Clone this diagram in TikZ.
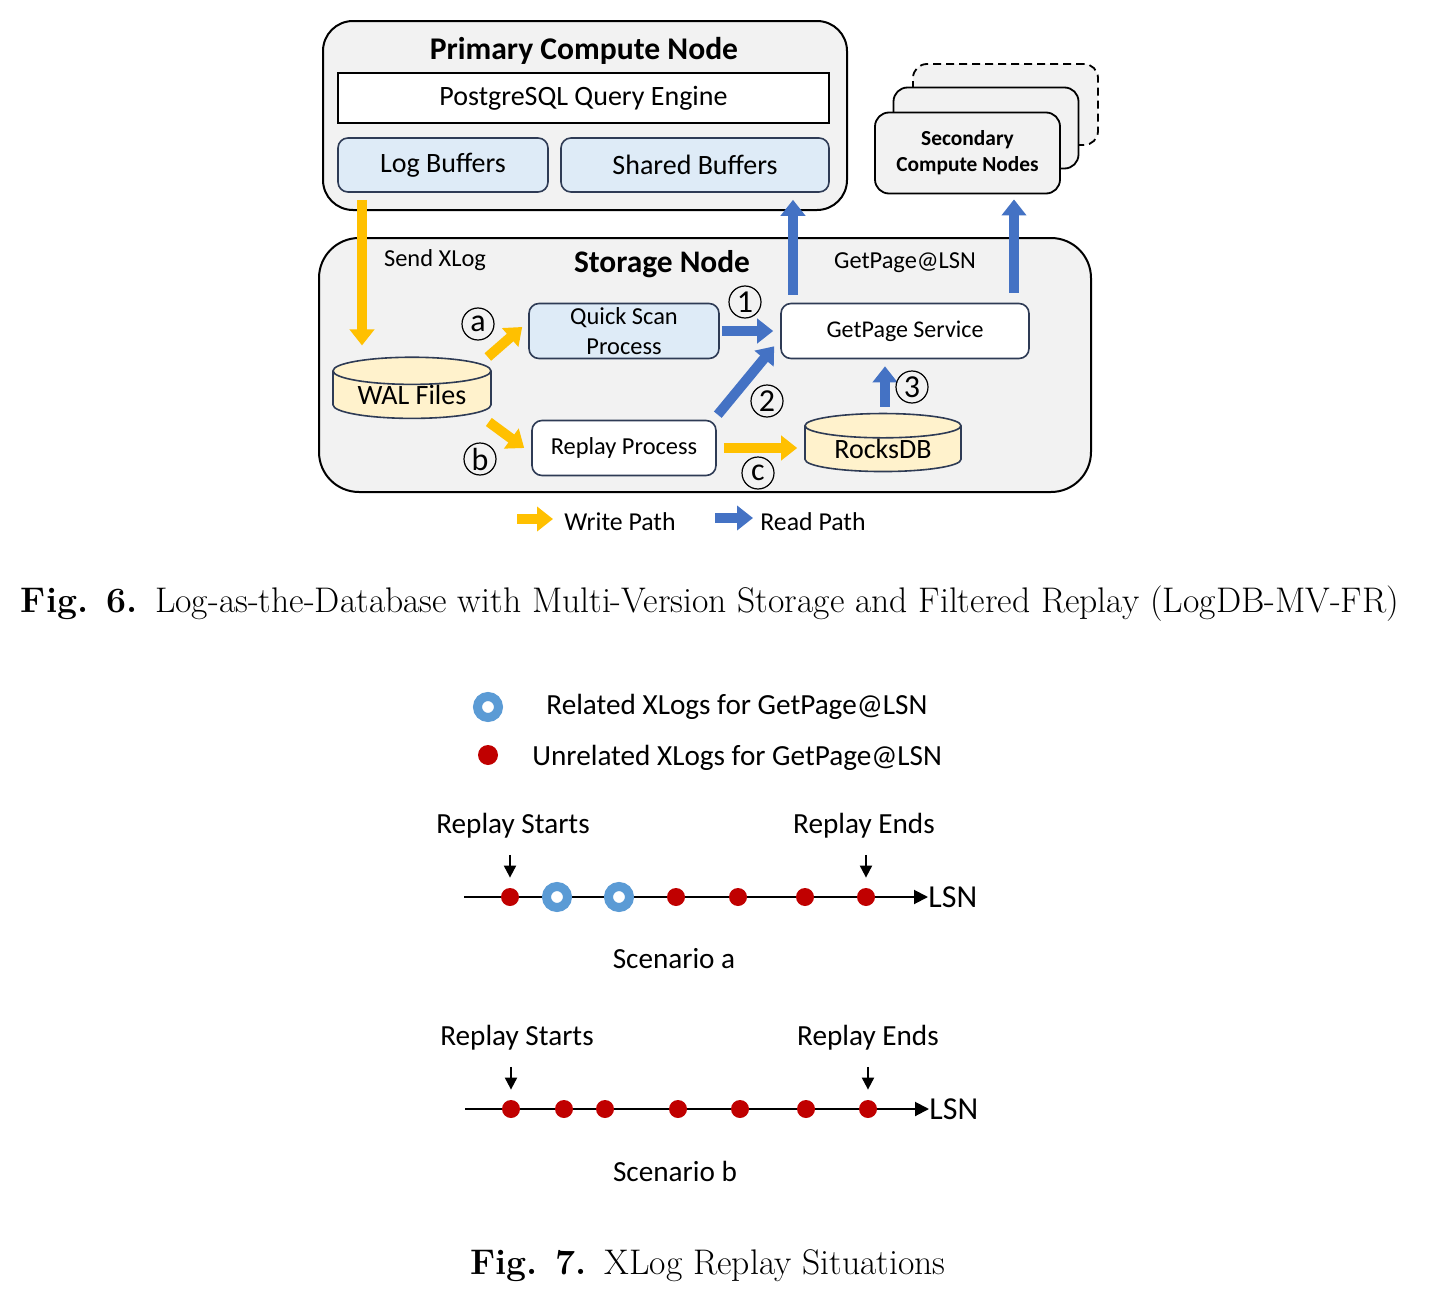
\documentclass[tikz,border=0pt]{standalone}
\usepackage{fontspec}
\newfontfamily\calfont{Carlito}
\usetikzlibrary{arrows.meta,positioning,shapes.geometric}

\definecolor{boxgray}{HTML}{F2F2F2}
\definecolor{qblue}{HTML}{DEEBF7}
\definecolor{edgeblue}{HTML}{2E3B55}
\definecolor{dbfill}{HTML}{FFF2CC}
\definecolor{wyellow}{HTML}{FFC000}
\definecolor{rblue}{HTML}{4472C4}
\definecolor{dotred}{HTML}{C00000}
\definecolor{ringblue}{HTML}{5B9BD5}

\begin{document}
\begin{tikzpicture}[x=0.5pt, y=-0.5pt,
		every node/.style = {font=\calfont, inner sep=0pt},
		bigbox/.style = {draw, line width=1pt, fill=boxgray},
		buf/.style = {draw=edgeblue, line width=0.8pt, fill=qblue, rounded corners=5pt},
		plain/.style = {draw=edgeblue, line width=0.8pt, fill=white, rounded corners=5pt},
		secbox/.style = {draw, line width=0.9pt, fill=boxgray, rounded corners=7pt,
			minimum width=92.5pt, minimum height=40.5pt},
		db/.style = {cylinder, shape border rotate=90, aspect=0.25,
			draw=edgeblue, line width=0.8pt, fill=dbfill},
		num/.style = {circle, draw, line width=0.6pt, minimum size=16pt,
			font=\calfont\fontsize{16}{16}\selectfont},
		wpath/.style = {draw=wyellow, line width=5pt, -{Triangle[length=8pt,width=12pt]}},
		rpath/.style = {draw=rblue, line width=5pt, -{Triangle[length=8pt,width=12pt]}},
		reddot/.style = {circle, fill=dotred, minimum size=9pt},
		ring/.style = {circle, draw=ringblue, fill=white, line width=4.5pt, minimum size=10.5pt},
		axis/.style = {line width=1pt, -{Triangle[length=7pt,width=7pt]}},
		pointer/.style = {line width=1pt, -{Triangle[length=6pt,width=6pt]}},
		t12/.style = {font=\calfont\fontsize{12.2}{15}\selectfont},
		t14/.style = {font=\calfont\fontsize{14}{17}\selectfont},
		tlog/.style = {font=\calfont\fontsize{14.6}{17}\selectfont},
		figcap/.style = {font=\normalfont\fontsize{17.8}{21}\selectfont}
	]
	\path[fill=white, use as bounding box] (0,0) rectangle (1432,1306);

	% primary compute node
	\node[bigbox, rounded corners=15pt, minimum width=262pt, minimum height=94.5pt] (primary) at (585,115.5) {};
	\node[font=\calfont\bfseries\fontsize{15.8}{18}\selectfont] (ptitle) at (584,51) {Primary Compute Node};
	\node[draw, line width=0.8pt, fill=white, minimum width=245.5pt, minimum height=25pt, t14] (engine) at (583.5,98) {PostgreSQL Query Engine};
	\node[buf, minimum width=105pt, minimum height=27pt, t14] (logbuf) at (443,165) {Log Buffers};
	\node[buf, minimum width=134pt, minimum height=27pt, t14] (shbuf) at (695,165) {Shared Buffers};

	% secondary compute nodes
	\node[secbox, dash pattern=on 4pt off 2.5pt] (secback) at (1005.5,104.5) {};
	\node[secbox] (secmid) at (986,128) {};
	\node[secbox, align=center, font=\calfont\bfseries\fontsize{10.7}{13}\selectfont] (secnode) at (967.5,153) {Secondary\\Compute Nodes};

	% storage node
	\node[bigbox, rounded corners=20pt, minimum width=386pt, minimum height=127pt] (storage) at (705,365) {};
	\node[font=\calfont\bfseries\fontsize{15.7}{18}\selectfont] (stitle) at (662,264) {Storage Node};
	\node[t12] (sendlbl) at (435,260) {Send XLog};
	\node[t12] (getlbl) at (905,263) {GetPage@LSN};

	\node[db, minimum width=79pt, minimum height=30pt, t14] (wal) at (412,395) {WAL Files};
	\node[buf, minimum width=95pt, minimum height=27.5pt, align=center, t12] (quick) at (624,331) {Quick Scan\\Process};
	\node[plain, minimum width=124pt, minimum height=27.5pt, font=\calfont\fontsize{12}{14}\selectfont] (getpage) at (905,331) {GetPage Service};
	\node[plain, minimum width=92pt, minimum height=27.5pt, t12] (replay) at (624,448) {Replay Process};
	\node[db, minimum width=78pt, minimum height=29pt, t14] (rocks) at (883,449) {RocksDB};

	% write path
	\draw[wpath, shorten <=3.5pt, shorten >=5.5pt] ([xshift=-40.5pt]logbuf.south) -- ([xshift=-40.5pt]logbuf.south |- wal.north);
	\draw[wpath] ([shift={(-4,-38)}]wal.east) -- ([shift={(-6,-4)}]quick.west);
	\draw[wpath] ([shift={(-3,27)}]wal.east) -- ([shift={(-7,0)}]replay.west);
	\draw[wpath, shorten <=3.5pt, shorten >=3.5pt] (replay.east) -- (replay.east -| rocks.west);

	% read path
	\draw[rpath, shorten <=1pt, shorten >=3.5pt] (quick.east) -- (quick.east -| getpage.west);
	\draw[rpath] ([shift={(1,-5)}]replay.north east) -- ([shift={(-6,-13)}]getpage.south west);
	\draw[rpath, shorten <=3pt, shorten >=3.5pt] ([xshift=1pt]rocks.north) -- ([xshift=1pt]rocks.north |- getpage.south);
	\draw[rpath, shorten <=4pt, shorten >=3.5pt] ([xshift=-56pt]getpage.north) -- ([xshift=-56pt]getpage.north |- shbuf.south);
	\draw[rpath, shorten <=5pt, shorten >=2.5pt] ([xshift=54.5pt]getpage.north) -- ([xshift=54.5pt]getpage.north |- secnode.south);

	\node[num] (la) at (478,324) {a};
	\node[num] (lb) at (480,459) {b};
	\node[num] (lc) at (758,473) {c};
	\node[num] (l1) at (745,302) {1};
	\node[num] (l2) at (767,401) {2};
	\node[num] (l3) at (912,387) {3};

	% legend
	\node[anchor=west, font=\calfont\fontsize{12.9}{15}\selectfont] (wtxt) at (564,522) {Write Path};
	\draw[wpath] ([shift={(-47,-3)}]wtxt.west) -- ([shift={(-11,-3)}]wtxt.west);
	\node[anchor=west, font=\calfont\fontsize{12.9}{15}\selectfont] (rtxt) at (760,522) {Read Path};
	\draw[rpath] ([shift={(-45,-4)}]rtxt.west) -- ([shift={(-7,-4)}]rtxt.west);

	\node[figcap] (cap6) at (710,604) {\textbf{Fig. 6.}\hspace{0.5em}Log-as-the-Database with Multi-Version Storage and Filtered Replay (LogDB-MV-FR)};

	% xlog legend
	\node[ring] (ringleg) at (488,707) {};
	\node[anchor=west, tlog] (relleg) at (546,707) {Related XLogs for GetPage@LSN};
	\node[reddot, minimum size=10pt] (dotleg) at (488,755) {};
	\node[anchor=west, tlog] (unrleg) at (532,758) {Unrelated XLogs for GetPage@LSN};

	% scenario a
	\node[tlog] (rsa) at (513,826) {Replay Starts};
	\node[tlog] (rea) at (864,826) {Replay Ends};
	\coordinate (a0) at (464,897);
	\node[anchor=west, font=\calfont\fontsize{16}{19}\selectfont] (lsna) at (928,897) {LSN};
	\draw[axis] (a0) -- (lsna.west);
	\foreach \x/\k/\s in {510/1/reddot, 557/2/ring, 619/3/ring, 676/4/reddot, 738/5/reddot, 805/6/reddot, 866/7/reddot}
		\node[\s] (da\k) at (\x,897) {};
	\draw[pointer, shorten <=8pt, shorten >=5pt] (da1.north |- rsa.south) -- (da1.north);
	\draw[pointer, shorten <=8pt, shorten >=5pt] (da7.north |- rea.south) -- (da7.north);
	\node[tlog] (sca) at (674,959) {Scenario a};

	% scenario b
	\node[tlog] (rsb) at (517,1038) {Replay Starts};
	\node[tlog] (reb) at (868,1038) {Replay Ends};
	\coordinate (b0) at (465,1109);
	\node[anchor=west, font=\calfont\fontsize{16}{19}\selectfont] (lsnb) at (929,1109) {LSN};
	\draw[axis] (b0) -- (lsnb.west);
	\foreach \x/\k in {511/1, 564/2, 605/3, 678/4, 740/5, 806/6, 868/7}
		\node[reddot] (db\k) at (\x,1109) {};
	\draw[pointer, shorten <=8pt, shorten >=5pt] (db1.north |- rsb.south) -- (db1.north);
	\draw[pointer, shorten <=8pt, shorten >=5pt] (db7.north |- reb.south) -- (db7.north);
	\node[tlog] (scb) at (675,1171) {Scenario b};

	\node[figcap] (cap7) at (708,1266) {\textbf{Fig. 7.}\hspace{0.5em}XLog Replay Situations};
\end{tikzpicture}
\end{document}
